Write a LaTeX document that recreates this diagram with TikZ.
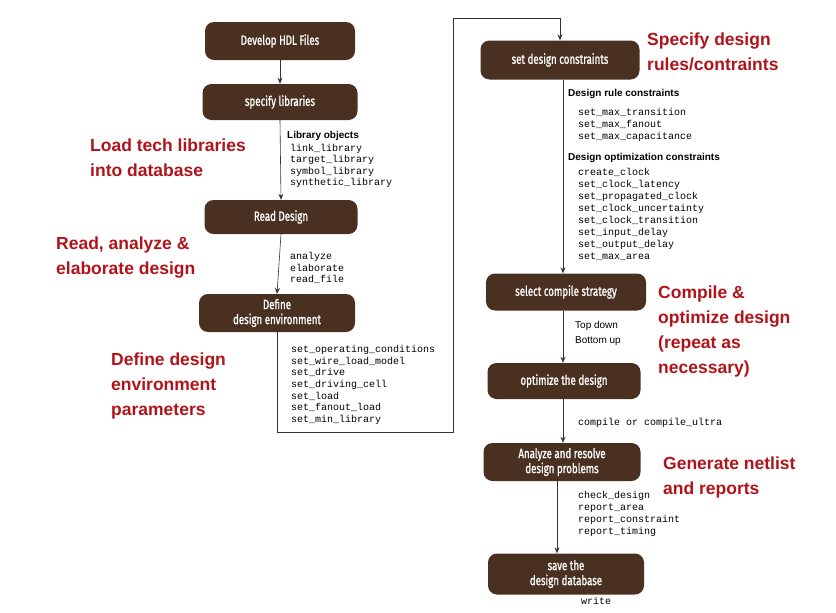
\documentclass[tikz,border=0pt]{standalone}
\usepackage{fontspec}
\setmainfont{Liberation Sans}
\setmonofont{Liberation Mono}
\newfontfamily\boxfont[FakeStretch=0.72,FakeBold=1.2]{Fira Sans}
\usetikzlibrary{arrows.meta}
\definecolor{boxbrown}{HTML}{4A3020}
\definecolor{notered}{HTML}{B0141A}
\begin{document}
\begin{tikzpicture}[x=1pt,y=-1pt,
        stage/.style={fill=boxbrown, text=white, rounded corners=9pt, align=center,
            font=\boxfont\fontsize{13.5}{15}\selectfont, inner sep=0pt},
        cmds/.style={anchor=west, align=left, font=\ttfamily\fontsize{10}{11.6}\selectfont, inner sep=0pt},
        head/.style={anchor=west, align=left, font=\bfseries\fontsize{10}{12}\selectfont, inner sep=0pt},
        note/.style={anchor=west, align=left, text=notered, font=\bfseries\fontsize{17.5}{25}\selectfont, inner sep=0pt},
        flow/.style={draw=black!80, line width=0.6pt, -{Stealth[length=6pt,width=5pt]}},
    ]
    \useasboundingbox (0,0) rectangle (836,613);
    % left column
    \node[stage, minimum width=150pt, minimum height=38pt] (hdl) at (280,41) {Develop HDL Files};
    \node[stage, minimum width=155pt, minimum height=36pt] (libs) at (280,102) {specify libraries};
    \node[stage, minimum width=153pt, minimum height=34pt] (read) at (281,217) {Read Design};
    \node[stage, minimum width=156pt, minimum height=38pt] (env) at (277,313) {Define\\design environment};
    % right column
    \node[stage, minimum width=159pt, minimum height=39pt] (cons) at (560,60) {set design constraints};
    \node[stage, minimum width=160pt, minimum height=37pt] (comp) at (566,292) {select compile strategy};
    \node[stage, minimum width=153pt, minimum height=36pt] (opt) at (564,381) {optimize the design};
    \node[stage, minimum width=157pt, minimum height=38pt] (anl) at (562,462) {Analyze and resolve\\design problems};
    \node[stage, minimum width=156pt, minimum height=41pt] (save) at (566,574) {save the\\design database};
    % connectors
    \draw[flow] (hdl.south) -- (libs.north);
    \draw[flow] (libs.south) -- (read.north);
    \draw[flow] (read.south) -- (env.north);
    \draw[flow] (env.south) -- (277,432) -- (453,432) -- (453,18) -- (cons.north |- 0,18) -- (cons.north);
    \draw[flow] (cons.south -| 563,0) -- (comp.north -| 563,0);
    \draw[flow] (comp.south -| 563,0) -- (opt.north -| 563,0);
    \draw[flow] (opt.south -| 563,0) -- (anl.north -| 563,0);
    \draw[flow] (anl.south -| 557,0) -- (save.north -| 557,0);
    % commands
    \node[head] (libhead) at (287,136) {Library objects};
    \node[cmds] (libcmds) at (290,166) {link\_library\\target\_library\\symbol\_library\\synthetic\_library};
    \node[cmds] (readcmds) at (290,268) {analyze\\elaborate\\read\_file};
    \node[cmds] (envcmds) at (291,385) {set\_operating\_conditions\\set\_wire\_load\_model\\set\_drive\\set\_driving\_cell\\set\_load\\set\_fanout\_load\\set\_min\_library};
    \node[head] (rulehead) at (568,94) {Design rule constraints};
    \node[cmds] (rulecmds) at (578,125) {set\_max\_transition\\set\_max\_fanout\\set\_max\_capacitance};
    \node[head] (opthead) at (568,158) {Design optimization constraints};
    \node[cmds, font=\ttfamily\fontsize{10}{12}\selectfont] (optcmds) at (578,214) {create\_clock\\set\_clock\_latency\\set\_propagated\_clock\\set\_clock\_uncertainty\\set\_clock\_transition\\set\_input\_delay\\set\_output\_delay\\set\_max\_area};
    \node[anchor=west, align=left, inner sep=0pt, font=\fontsize{10}{15}\selectfont] (strat) at (575,333) {Top down\\Bottom up};
    \node[cmds] (compcmds) at (578,423) {compile or compile\_ultra};
    \node[cmds, font=\ttfamily\fontsize{10}{12}\selectfont] (chkcmds) at (578,514) {check\_design\\report\_area\\report\_constraint\\report\_timing};
    \node[cmds] (wrcmds) at (581,601) {write};
    % red notes
    \node[note] (n1) at (647,52) {Specify design\\rules/contraints};
    \node[note] (n2) at (90,158) {Load tech libraries\\into database};
    \node[note] (n3) at (56,258) {Read, analyze \&\\elaborate design};
    \node[note] (n4) at (658,331) {Compile \&\\optimize design\\(repeat as\\necessary)};
    \node[note] (n5) at (111,386) {Define design\\environment\\parameters};
    \node[note] (n6) at (663,477) {Generate netlist\\and reports};
\end{tikzpicture}
\end{document}
